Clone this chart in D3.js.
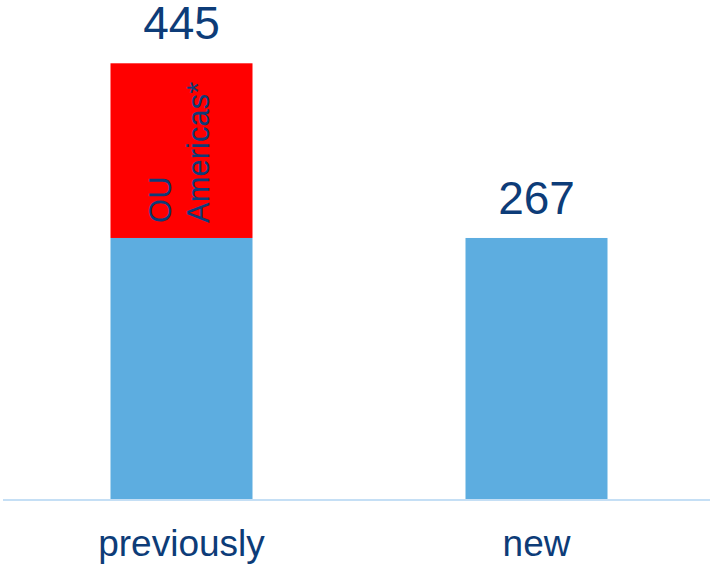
<!DOCTYPE html>
<html>
<head>
<meta charset="utf-8">
<script src="https://cdn.jsdelivr.net/npm/d3@7"></script>
<style>
  body { margin: 0; background: #fff; }
  text { font-family: Arial, "Liberation Sans", sans-serif; fill: #0d3c78; }
</style>
</head>
<body>
<div id="chart"></div>
<script>
// Data
var categories = ["previously", "new"];
var baseValues = [267, 267];
var extraValues = [178, 0];
var totalLabels = ["445", "267"];
var extraLabelLines = ["OU", "Americas*"];

// Chart area
var svgWidth = 710;
var svgHeight = 564;
var baseline = 500;

var svg = d3.select("#chart")
  .append("svg")
  .attr("width", svgWidth)
  .attr("height", svgHeight);

// Scales
var xScale = d3.scaleBand()
  .domain(categories)
  .range([4, 714])
  .paddingInner(0.6)
  .paddingOuter(0.3);

var yScale = d3.scaleLinear()
  .domain([0, 509.5])
  .range([baseline, 0]);

var rows = categories.map(function(c, i) {
  return { cat: c, base: baseValues[i], extra: extraValues[i], label: totalLabels[i] };
});

// Blue base bars
svg.selectAll(".base")
  .data(rows)
  .enter()
  .append("rect")
  .attr("class", "base")
  .attr("x", d => xScale(d.cat))
  .attr("width", xScale.bandwidth())
  .attr("y", d => yScale(d.base))
  .attr("height", d => baseline - yScale(d.base))
  .attr("fill", "#5dade0");

// Red stacked part
svg.selectAll(".extra")
  .data(rows.filter(d => d.extra > 0))
  .enter()
  .append("rect")
  .attr("class", "extra")
  .attr("x", d => xScale(d.cat))
  .attr("width", xScale.bandwidth())
  .attr("y", d => yScale(d.base + d.extra))
  .attr("height", d => yScale(d.base) - yScale(d.base + d.extra))
  .attr("fill", "#ff0000");

// Axis
var bottomAxis = d3.axisBottom(xScale).tickSize(0).tickPadding(0);
var axisG = svg.append("g")
  .attr("transform", `translate(0, ${baseline})`)
  .call(bottomAxis);
axisG.select(".domain")
  .attr("d", "M3,0H710")
  .attr("stroke", "#c5dff5")
  .attr("stroke-width", 2);
axisG.selectAll(".tick text")
  .attr("y", 56)
  .attr("dy", null)
  .style("font-size", "37px")
  .style("font-family", "Arial, 'Liberation Sans', sans-serif")
  .attr("fill", "#0d3c78");

// Total labels
svg.selectAll(".total")
  .data(rows)
  .enter()
  .append("text")
  .attr("class", "total")
  .attr("x", d => xScale(d.cat) + xScale.bandwidth() / 2)
  .attr("y", d => yScale(d.base + d.extra) - 24)
  .attr("text-anchor", "middle")
  .style("font-size", "46px")
  .text(d => d.label);

// Rotated label inside red segment
var r0 = rows[0];
var lbl = svg.append("text")
  .attr("transform", `translate(${xScale(r0.cat) + 60}, ${yScale(r0.base) - 15}) rotate(-90)`)
  .style("font-size", "31px");
lbl.selectAll("tspan")
  .data(extraLabelLines)
  .enter()
  .append("tspan")
  .attr("x", 0)
  .attr("y", (d, i) => i * 38)
  .text(d => d);
</script>
</body>
</html>
